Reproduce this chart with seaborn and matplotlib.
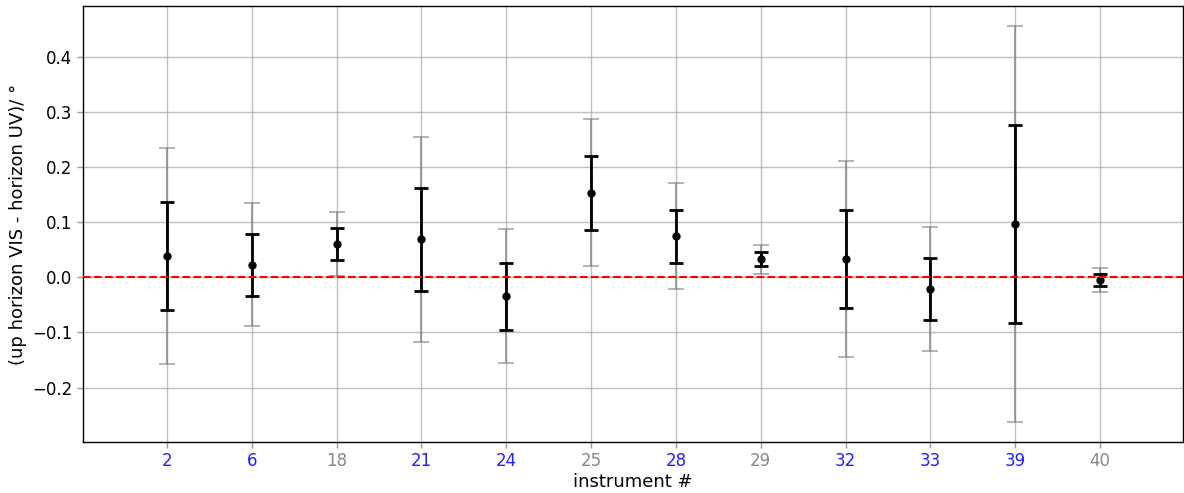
import matplotlib
matplotlib.use("Agg")
import matplotlib.pyplot as plt
import seaborn as sns
import numpy as np
import pandas as pd

instruments = ["2", "6", "18", "21", "24", "25", "28", "29", "32", "33", "39", "40"]
mean_offset = [0.039, 0.023, 0.061, 0.069, -0.034, 0.154, 0.075, 0.033, 0.033, -0.021, 0.097, -0.004]
sigma = [0.098, 0.056, 0.029, 0.093, 0.061, 0.067, 0.048, 0.013, 0.089, 0.056, 0.180, 0.011]
label_colors = ["#2020ff", "#2020ff", "#888888", "#2020ff", "#2020ff", "#888888", "#2020ff", "#888888",
                "#2020ff", "#2020ff", "#2020ff", "#888888"]

df = pd.DataFrame({"instrument": instruments, "offset": mean_offset, "sigma": sigma})
df["pos"] = np.arange(len(df))

sns.set_style("ticks")
plt.rcParams["font.family"] = ["DejaVu Sans"]
plt.rcParams["text.color"] = "black"
plt.rcParams["axes.labelcolor"] = "black"

fig = plt.figure(figsize=(11.84, 4.93), dpi=100)
ax = fig.add_axes([0.0701, 0.1034, 0.9292, 0.8844])

# 2-sigma range (light) and 1-sigma range (dark)
ax.errorbar(df["pos"], df["offset"], yerr=2 * df["sigma"], fmt="none",
            ecolor="gray", alpha=0.7, elinewidth=1.5, capsize=6, capthick=1.2, zorder=2)
ax.errorbar(df["pos"], df["offset"], yerr=df["sigma"], fmt="none",
            ecolor="black", elinewidth=2, capsize=5, capthick=2, zorder=3)
sns.scatterplot(data=df, x="pos", y="offset", color="black", s=36,
                edgecolor="black", linewidth=0, zorder=4, ax=ax)

ax.axhline(0, color="red", linestyle="--", linewidth=1.5, zorder=5)

ax.set_xticks(df["pos"])
ax.set_xticklabels(instruments, fontsize=12)
for lbl, c in zip(ax.get_xticklabels(), label_colors):
    lbl.set_color(c)
ax.set_xlim(-0.99, len(instruments) - 0.02)
ax.set_yticks([-0.2, -0.1, 0.0, 0.1, 0.2, 0.3, 0.4])
ax.tick_params(axis="y", labelsize=12, labelcolor="black")
ax.tick_params(axis="both", direction="out", length=4, width=1, color="#999999")
ax.grid(True, color="#b0b0b0", linewidth=1, alpha=0.8)
ax.set_axisbelow(True)
for sp in ax.spines.values():
    sp.set_color("black")
    sp.set_linewidth(1)

ax.set_xlabel("instrument #", fontsize=13, labelpad=2)
ax.set_ylabel("(up horizon VIS - horizon UV)/ °", fontsize=13)

fig.savefig("out.png", dpi=100)
